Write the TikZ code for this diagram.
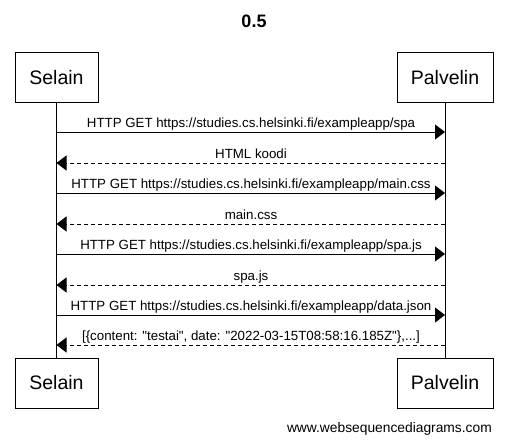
\documentclass[tikz,border=0pt]{standalone}
\usepackage{fontspec}
\setmainfont{Liberation Sans}
\usetikzlibrary{arrows.meta}
\tikzset{
  actor/.style={draw, line width=1pt, minimum width=83pt, minimum height=50pt, inner sep=0pt, font=\fontsize{19.5}{21}\selectfont},
  actorw/.style={actor, minimum width=96pt},
  life/.style={line width=1pt},
  msg/.style={line width=1pt, -{Triangle[length=10pt,width=15pt]}},
  reply/.style={msg, dash pattern=on 4pt off 3pt},
  lbl/.style={font=\fontsize{13.3}{15}\selectfont, inner sep=0pt, anchor=base}
}
\begin{document}
\begin{tikzpicture}[x=1pt,y=-1pt]
\useasboundingbox (0,0) rectangle (508,442);
\node[font=\bfseries\fontsize{18}{20}\selectfont] (title) at (254,21) {0.5};
\node[actor] (s1) at (56.5,77.5) {Selain};
\node[actorw] (p1) at (445,77.5) {Palvelin};
\node[actor] (s2) at (56.5,383) {Selain};
\node[actorw] (p2) at (445,383) {Palvelin};
\draw[life] (s1.south) -- (s2.north);
\draw[life] (p1.south) -- (p2.north);
% messages
\foreach \y/\t/\k in {
 132/{HTTP GET https://studies.cs.helsinki.fi/exampleapp/spa}/msg,
 193/{HTTP GET https://studies.cs.helsinki.fi/exampleapp/main.css}/msg,
 254/{HTTP GET https://studies.cs.helsinki.fi/exampleapp/spa.js}/msg,
 315/{HTTP GET https://studies.cs.helsinki.fi/exampleapp/data.json}/msg}{
  \coordinate (a\y) at (s1.south |- 0,\y);
  \coordinate (b\y) at (p1.south |- 0,\y);
  \draw[\k] (a\y) -- (b\y);
  \node[lbl] (l\y) at (251,\y-5) {\t};
}
\foreach \y/\t in {
 163/{HTML koodi},
 224/{main.css},
 285/{spa.js},
 345/{[\{content: \textquotedbl testai\textquotedbl, date: \textquotedbl 2022-03-15T08:58:16.185Z\textquotedbl\},...]}}{
  \coordinate (a\y) at (s1.south |- 0,\y);
  \coordinate (b\y) at (p1.south |- 0,\y);
  \draw[reply] (b\y) -- (a\y);
  \node[lbl] (l\y) at (251,\y-5) {\t};
}
\node[font=\fontsize{13.8}{16}\selectfont, anchor=base east, inner sep=0pt] (foot) at (492,432) {www.websequencediagrams.com};
\end{tikzpicture}
\end{document}
